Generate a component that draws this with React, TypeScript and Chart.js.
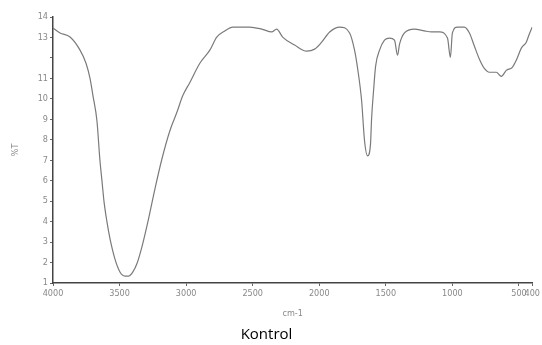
import React, { useEffect, useRef } from "react";
import { Chart, registerables } from "chart.js";
Chart.register(...registerables);

const wavenumbers = [
  4000, 3947, 3872, 3797, 3752, 3722, 3700, 3670, 3647, 3632, 3617, 3595, 3572, 3535, 3497, 3460, 3430, 3400,
  3370, 3332, 3287, 3235, 3182, 3122, 3070, 3025, 2972, 2897, 2822, 2770, 2710, 2650, 2522, 2432, 2357, 2320,
  2275, 2185, 2095, 2035, 1982, 1922, 1847, 1772, 1735, 1712, 1682, 1660, 1637, 1615, 1607, 1592, 1577, 1547,
  1510, 1472, 1435, 1412, 1397, 1360, 1285, 1210, 1157, 1097, 1037, 1015, 1000, 962, 910, 872, 835, 797, 760,
  722, 670, 632, 595, 550, 520, 482, 445, 422, 400,
];
const transmittance = [
  13.46, 13.22, 13.02, 12.38, 11.74, 11.0, 10.16, 8.93, 6.96, 5.98, 4.99, 4.0, 3.17, 2.18, 1.54, 1.34, 1.34, 1.54,
  1.94, 2.77, 4.0, 5.58, 7.06, 8.44, 9.33, 10.16, 10.8, 11.74, 12.38, 13.02, 13.32, 13.51, 13.51, 13.41, 13.27, 13.41,
  13.02, 12.63, 12.33, 12.43, 12.77, 13.27, 13.51, 13.22, 12.38, 11.49, 9.92, 7.95, 7.21, 7.8, 9.03, 10.41, 11.59, 12.38,
  12.87, 12.97, 12.87, 12.13, 12.67, 13.22, 13.41, 13.32, 13.27, 13.27, 12.97, 12.03, 13.22, 13.51, 13.51, 13.22, 12.58, 11.94, 11.49,
  11.3, 11.3, 11.1, 11.39, 11.54, 11.89, 12.48, 12.77, 13.17, 13.51,
];
const xTicks = [4000, 3500, 3000, 2500, 2000, 1500, 1000, 500, 400];
const yTicks = [1, 2, 3, 4, 5, 6, 7, 8, 9, 10, 11, 12, 13, 14];
const yHiddenLabels = [12];

const tickFont = { family: "'Liberation Sans Narrow', 'DejaVu Sans Condensed', sans-serif", size: 9 };

export default function App() {
  const ref = useRef<HTMLCanvasElement>(null);
  useEffect(() => {
    const chart = new Chart(ref.current!, {
      type: "line",
      data: {
        datasets: [
          {
            data: wavenumbers.map((x, i) => ({ x, y: transmittance[i] })),
            borderColor: "#7a7a7a",
            borderWidth: 1.2,
            pointRadius: 0,
            cubicInterpolationMode: "monotone",
          },
        ],
      },
      options: {
        animation: false,
        responsive: false,
        layout: { padding: { top: 17, right: 9, left: 0, bottom: 0 } },
        plugins: {
          legend: { display: false },
          tooltip: { enabled: false },
          title: {
            display: true,
            position: "bottom",
            text: "Kontrol",
            color: "#000",
            font: { family: "'Open Sans', sans-serif", size: 15, weight: "normal" },
            padding: { top: 4, bottom: 1 },
          },
        },
        scales: {
          x: {
            type: "linear",
            reverse: true,
            min: 400,
            max: 4000,
            afterBuildTicks: (s: any) => {
              s.ticks = xTicks.map((v) => ({ value: v }));
            },
            afterFit: (s: any) => {
              s.height = 39;
            },
            grid: { drawOnChartArea: false, drawTicks: true, tickLength: 3, color: "#666" },
            border: { color: "#444", width: 1.5 },
            ticks: {
              color: "#888",
              font: tickFont,
              autoSkip: false,
              maxRotation: 0,
              padding: 2,
              callback: (v: any) => String(v),
            },
            title: { display: true, text: "cm-1", color: "#888", font: tickFont, padding: { top: 2, bottom: 3 } },
          },
          y: {
            type: "linear",
            min: 1,
            max: 14,
            afterBuildTicks: (s: any) => {
              s.ticks = yTicks.map((v) => ({ value: v }));
            },
            afterFit: (s: any) => {
              s.width = 53;
            },
            grid: { drawOnChartArea: false, drawTicks: true, tickLength: 3, color: "#666" },
            border: { color: "#444", width: 1.5 },
            ticks: {
              color: "#888",
              font: tickFont,
              padding: 2,
              callback: (v: any) => (yHiddenLabels.includes(v) ? "" : String(v)),
            },
            title: { display: true, text: "%T", color: "#888", font: tickFont, padding: { top: 10, bottom: 0 } },
          },
        },
      },
    } as any);
    return () => chart.destroy();
  }, []);
  return (
    <div style={{ position: "absolute", left: 0, top: 0, width: 542, height: 345, background: "#fff" }}>
      <canvas ref={ref} width={542} height={345} />
    </div>
  );
}
